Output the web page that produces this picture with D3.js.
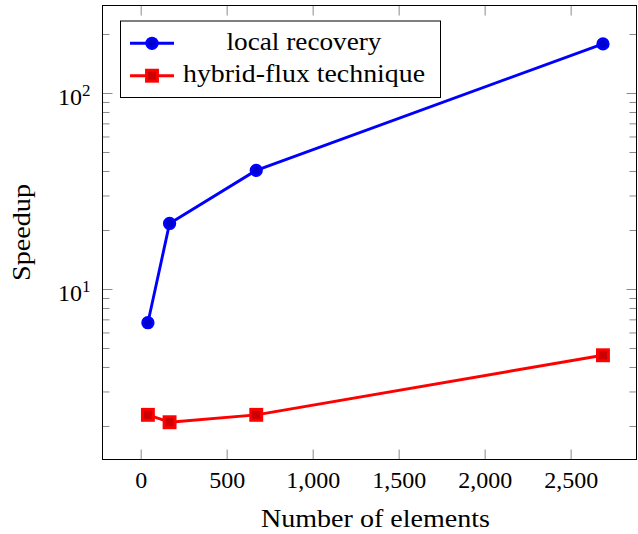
<!DOCTYPE html>
<html>
<head>
<meta charset="utf-8">
<script src="https://cdn.jsdelivr.net/npm/d3@7"></script>
<style>
  body { margin: 0; background: #fff; }
</style>
</head>
<body>
<svg id="chart"></svg>
<script>
// values
var ELEMENTS = [42, 168, 672, 2688];
var LOCAL_RECOVERY = [6.73, 21.6, 40.3, 178];
var HYBRID_FLUX = [2.28, 2.09, 2.28, 4.59];
var X_TICKS = [0, 500, 1000, 1500, 2000, 2500];
var Y_TICKS = [10, 100];
var Y_MINOR = [2, 3, 4, 5, 6, 7, 8, 9, 20, 30, 40, 50, 60, 70, 80, 90, 200];
var SERIES_NAMES = ["local recovery", "hybrid-flux technique"];

(function () {
    var WIDTH = 638, HEIGHT = 534;
    var LEFT = 102.5, RIGHT = 636.5, TOP = 5.5, BOTTOM = 459.5;
    var MAJOR = 10, MINOR = 7;
    var TICK_COLOR = "#8a8a8a";
    var FONT = "Liberation Serif";

    var xScale = d3.scaleLinear().domain([-222, 2883]).range([LEFT, RIGHT]);
    var yScale = d3.scaleLog().domain([1.349, 279.5]).range([BOTTOM, TOP]);

    var svg = d3.select("#chart").attr("width", WIDTH).attr("height", HEIGHT);

    function styleTicks(g) {
        g.attr("font-family", FONT);
        g.select(".domain").remove();
        g.selectAll(".tick line").attr("stroke", TICK_COLOR).attr("stroke-width", 1);
    }

    function label(sel) {
        return sel.attr("font-family", FONT).attr("fill", "#000");
    }

    // bottom axis with labels
    svg.append("g")
        .attr("transform", "translate(0," + BOTTOM + ")")
        .call(d3.axisBottom(xScale).tickValues(X_TICKS).tickSizeInner(-MAJOR).tickSizeOuter(0)
            .tickPadding(11.5).tickFormat(d3.format(",")))
        .call(styleTicks)
        .selectAll("text").attr("font-size", 24).call(label);

    // top mirrored ticks
    svg.append("g")
        .attr("transform", "translate(0," + TOP + ")")
        .call(d3.axisTop(xScale).tickValues(X_TICKS).tickSizeInner(-MAJOR).tickSizeOuter(0).tickFormat(""))
        .call(styleTicks);

    // left major ticks with 10^n labels
    var left = svg.append("g")
        .attr("transform", "translate(" + LEFT + ",0)")
        .call(d3.axisLeft(yScale).tickValues(Y_TICKS).tickSizeInner(-MAJOR).tickSizeOuter(0).tickFormat(""))
        .call(styleTicks);
    left.selectAll(".tick text").remove();
    left.selectAll(".tick").each(function (d) {
        var t = d3.select(this).append("text")
            .attr("x", -12).attr("y", 11.7)
            .attr("text-anchor", "end").attr("font-size", 24).call(label);
        t.append("tspan").text("10");
        t.append("tspan").attr("font-size", 17).attr("dy", -9).text(Math.round(Math.log10(d)));
    });

    svg.append("g")
        .attr("transform", "translate(" + LEFT + ",0)")
        .call(d3.axisLeft(yScale).tickValues(Y_MINOR).tickSizeInner(-MINOR).tickSizeOuter(0).tickFormat(""))
        .call(styleTicks);

    // right mirrored ticks
    svg.append("g")
        .attr("transform", "translate(" + RIGHT + ",0)")
        .call(d3.axisRight(yScale).tickValues(Y_TICKS).tickSizeInner(-MAJOR).tickSizeOuter(0).tickFormat(""))
        .call(styleTicks);
    svg.append("g")
        .attr("transform", "translate(" + RIGHT + ",0)")
        .call(d3.axisRight(yScale).tickValues(Y_MINOR).tickSizeInner(-MINOR).tickSizeOuter(0).tickFormat(""))
        .call(styleTicks);

    // axis box
    svg.append("rect")
        .attr("x", LEFT).attr("y", TOP)
        .attr("width", RIGHT - LEFT).attr("height", BOTTOM - TOP)
        .attr("fill", "none").attr("stroke", "#000").attr("stroke-width", 1);

    // axis labels
    svg.append("text")
        .attr("x", (LEFT + RIGHT) / 2 + 6).attr("y", 527)
        .attr("text-anchor", "middle").attr("font-size", 25)
        .attr("textLength", 229).attr("lengthAdjust", "spacingAndGlyphs")
        .call(label)
        .text("Number of elements");

    svg.append("text")
        .attr("transform", "translate(30," + ((TOP + BOTTOM) / 2) + ") rotate(-90)")
        .attr("text-anchor", "middle").attr("font-size", 25)
        .attr("textLength", 97).attr("lengthAdjust", "spacingAndGlyphs")
        .call(label)
        .text("Speedup");

    var series = [
        {name: SERIES_NAMES[0], values: LOCAL_RECOVERY, line: "#0000ff", fill: "#0000cc", mark: "circle"},
        {name: SERIES_NAMES[1], values: HYBRID_FLUX, line: "#ff0000", fill: "#cc0000", mark: "square"}
    ];

    var line = d3.line()
        .x(function (d) { return xScale(d.x); })
        .y(function (d) { return yScale(d.y); });

    function drawMark(g, s, cx, cy) {
        if (s.mark === "circle") {
            g.append("circle").attr("cx", cx).attr("cy", cy).attr("r", 5.2)
                .attr("fill", s.fill).attr("stroke", s.line).attr("stroke-width", 2.9);
        } else {
            g.append("rect").attr("x", cx - 5.5).attr("y", cy - 5.5).attr("width", 11).attr("height", 11)
                .attr("fill", s.fill).attr("stroke", s.line).attr("stroke-width", 2.9);
        }
    }

    var plot = svg.append("g");
    series.forEach(function (s) {
        var data = ELEMENTS.map(function (x, i) { return {x: x, y: s.values[i]}; });
        plot.append("path").datum(data).attr("d", line)
            .attr("fill", "none").attr("stroke", s.line).attr("stroke-width", 2.9)
            .attr("stroke-linejoin", "round");
        data.forEach(function (d) { drawMark(plot, s, xScale(d.x), yScale(d.y)); });
    });

    // legend
    var legend = svg.append("g");
    legend.append("rect")
        .attr("x", 120.5).attr("y", 21).attr("width", 320).attr("height", 76.5)
        .attr("fill", "#fff").attr("stroke", "#000").attr("stroke-width", 1);
    var rows = [43.3, 75.7];
    var widths = [155, 242];
    series.forEach(function (s, i) {
        legend.append("line")
            .attr("x1", 130).attr("x2", 174).attr("y1", rows[i]).attr("y2", rows[i])
            .attr("stroke", s.line).attr("stroke-width", 2.9);
        drawMark(legend, s, 152, rows[i]);
        legend.append("text")
            .attr("x", 304).attr("y", rows[i] + 6.3)
            .attr("text-anchor", "middle").attr("font-size", 25)
            .attr("textLength", widths[i]).attr("lengthAdjust", "spacingAndGlyphs")
            .call(label)
            .text(s.name);
    });
}());
</script>
</body>
</html>
